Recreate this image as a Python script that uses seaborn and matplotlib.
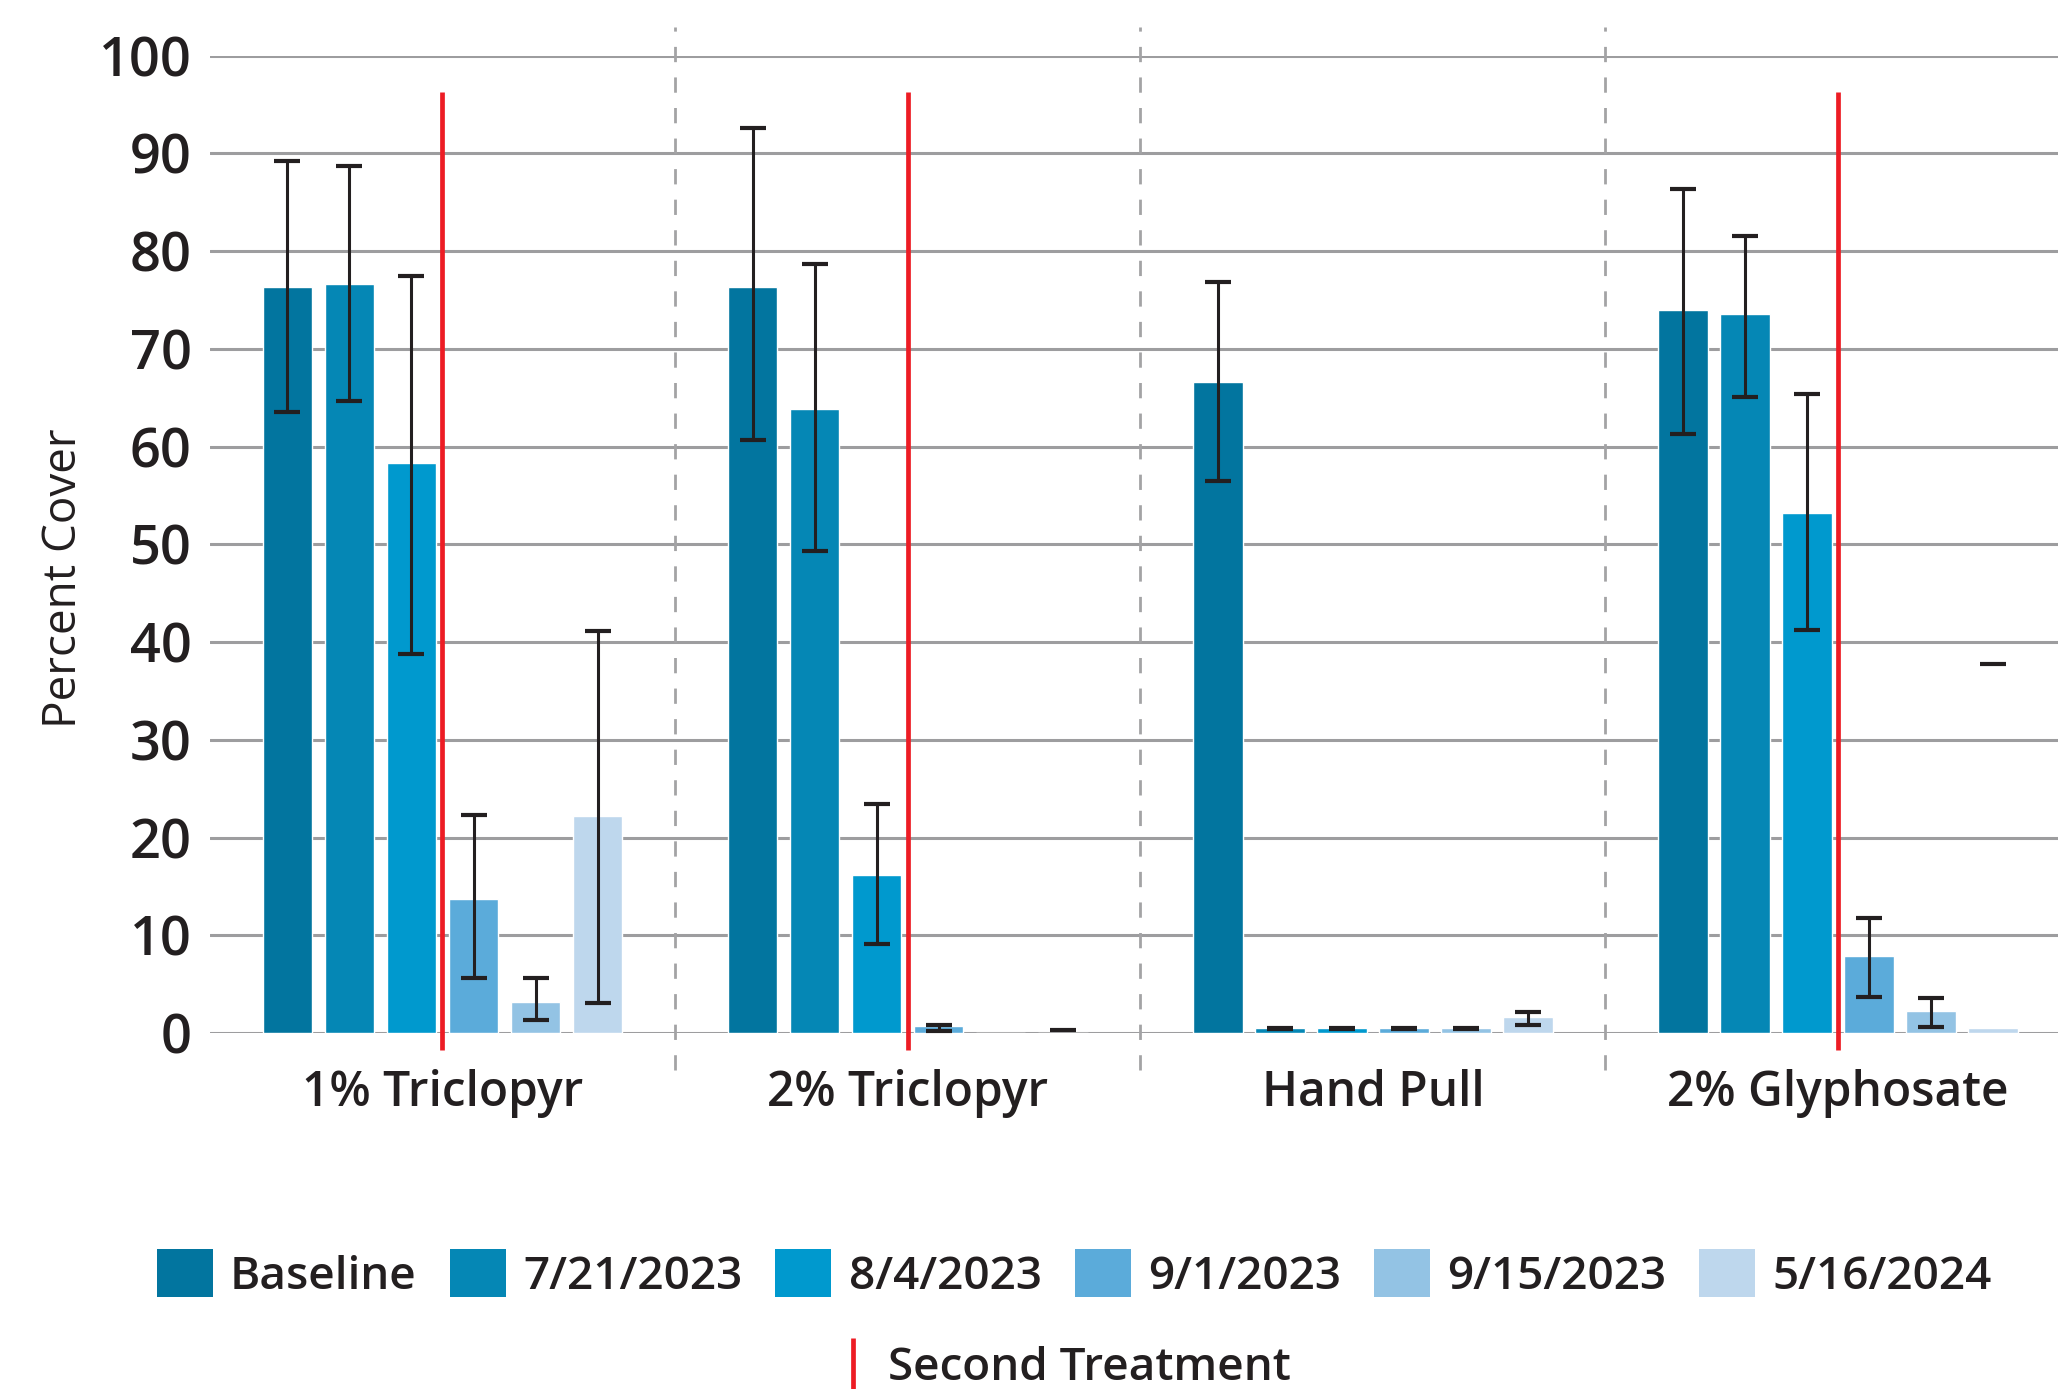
import numpy as np
import pandas as pd
import matplotlib
matplotlib.use("Agg")
import matplotlib.pyplot as plt
import seaborn as sns
from matplotlib.patches import Patch
from matplotlib.lines import Line2D

# --- Datos ---
tratamientos = ["1% Triclopyr", "2% Triclopyr", "Hand Pull", "2% Glyphosate"]
fechas = ["Baseline", "7/21/2023", "8/4/2023", "9/1/2023", "9/15/2023", "5/16/2024"]
colores = ["#02759F", "#0587B5", "#0099CE", "#5BABDA", "#93C3E4", "#BED7ED"]

# cobertura media por fecha (una lista por tratamiento)
cob_1tri = [76.3, 76.6, 58.3, 13.7, 3.2, 22.2]
cob_2tri = [76.3, 63.9, 16.2, 0.7, 0.0, 0.0]
cob_hand = [66.6, 0.5, 0.5, 0.5, 0.5, 1.6]
cob_2gly = [74.0, 73.6, 53.2, 7.9, 2.2, 0.5]

# limites de las barras de error (NaN = sin tope)
err_bajo_1tri = [63.5, 64.7, 38.8, 5.6, 1.3, 3.1]
err_alto_1tri = [89.2, 88.7, 77.5, 22.3, 5.6, 41.1]
err_bajo_2tri = [60.7, 49.3, 9.1, 0.2, np.nan, np.nan]
err_alto_2tri = [92.6, 78.7, 23.4, 0.85, np.nan, 0.35]
err_bajo_hand = [56.5, 0.4, 0.4, 0.4, 0.4, 0.85]
err_alto_hand = [76.8, 0.5, 0.5, 0.5, 0.5, 2.1]
err_bajo_2gly = [61.3, 65.1, 41.2, 3.7, 0.6, np.nan]
err_alto_2gly = [86.4, 81.6, 65.4, 11.8, 3.6, 37.8]

segundo_tratamiento = ["1% Triclopyr", "2% Triclopyr", "2% Glyphosate"]

cobertura = [cob_1tri, cob_2tri, cob_hand, cob_2gly]
err_bajo = [err_bajo_1tri, err_bajo_2tri, err_bajo_hand, err_bajo_2gly]
err_alto = [err_alto_1tri, err_alto_2tri, err_alto_hand, err_alto_2gly]

filas = []
for t, vals in zip(tratamientos, cobertura):
    for f, v in zip(fechas, vals):
        filas.append({"tratamiento": t, "fecha": f, "cobertura": v})
df = pd.DataFrame(filas)

# --- Estilo ---
sns.set_style("white")
plt.rcParams["font.family"] = ["Open Sans", "DejaVu Sans"]
texto = "#231F20"
gris = "#9D9D9F"
rojo = "#ED1C24"

fig = plt.figure(figsize=(20.58, 13.89), dpi=100)
ax = fig.add_axes([0.102, 0.2563, 0.898, 0.7036])

sns.barplot(data=df, x="tratamiento", y="cobertura", hue="fecha", order=tratamientos,
            hue_order=fechas, palette=colores, saturation=1, width=0.8, gap=0.2,
            errorbar=None, legend=False, ax=ax, zorder=2)

# --- Barras de error ---
for i, cont in enumerate(ax.containers):
    for j, barra in enumerate(cont):
        x = barra.get_x() + barra.get_width() / 2
        lo = err_bajo[j][i]
        hi = err_alto[j][i]
        if not np.isnan(lo) and not np.isnan(hi):
            ax.plot([x, x], [lo, hi], color=texto, lw=2.2, zorder=4, solid_capstyle="butt")
        for v in (lo, hi):
            if not np.isnan(v):
                ax.plot([x], [v], marker="_", ms=19, mew=3.0, color=texto, zorder=5)

# --- Lineas de segundo tratamiento y separadores ---
for t in segundo_tratamiento:
    k = tratamientos.index(t)
    ax.plot([k, k], [-1.7, 96.25], color=rojo, lw=3.4, zorder=6, clip_on=False,
            solid_capstyle="butt")
for k in range(len(tratamientos) - 1):
    ax.plot([k + 0.5, k + 0.5], [-3.8, 102.9], color="#A3A3A5", lw=2.0,
            ls=(0, (5.5, 5.5)), zorder=1, clip_on=False)

ax.set_xlim(-0.5, 3.473)
ax.set_ylim(0, 100)
ax.set_yticks(range(0, 101, 10))
ax.yaxis.grid(True, color=gris, lw=2.2, zorder=0)
ax.xaxis.grid(False)
ax.set_axisbelow(True)
for s in ax.spines.values():
    s.set_visible(False)
ax.tick_params(axis="y", length=0, pad=13, labelsize=39, labelcolor=texto)
ax.tick_params(axis="x", length=0, pad=26, labelsize=34.5, labelcolor=texto)
for lab in ax.get_yticklabels() + ax.get_xticklabels():
    lab.set_fontweight("semibold")
ax.set_xlabel("")
ax.set_ylabel("Percent Cover", fontsize=33, color=texto, va="center", fontweight="medium")
ax.yaxis.set_label_coords(-0.079, 0.465)

# --- Leyendas ---
manejadores = [Patch(facecolor=c, edgecolor="none") for c in colores]
leg1 = fig.legend(manejadores, fechas, loc="center", bbox_to_anchor=(0.522, 0.0825),
                  ncol=6, frameon=False, handlelength=1.22, handleheight=1.22,
                  handletextpad=0.38, columnspacing=0.72, labelcolor=texto,
                  borderpad=0, borderaxespad=0,
                  prop={"family": ["Open Sans", "DejaVu Sans"], "size": 33, "weight": "semibold"})
linea = Line2D([], [], color=rojo, marker="|", ls="none", ms=37, mew=3.4)
leg2 = fig.legend([linea], ["Second Treatment"], loc="center", bbox_to_anchor=(0.518, 0.0146),
                  frameon=False, handlelength=0.5, handletextpad=0.52,
                  labelcolor=texto, borderpad=0, borderaxespad=0,
                  prop={"family": ["Open Sans", "DejaVu Sans"], "size": 33, "weight": "semibold"})

plt.savefig("out.png", dpi=100)
